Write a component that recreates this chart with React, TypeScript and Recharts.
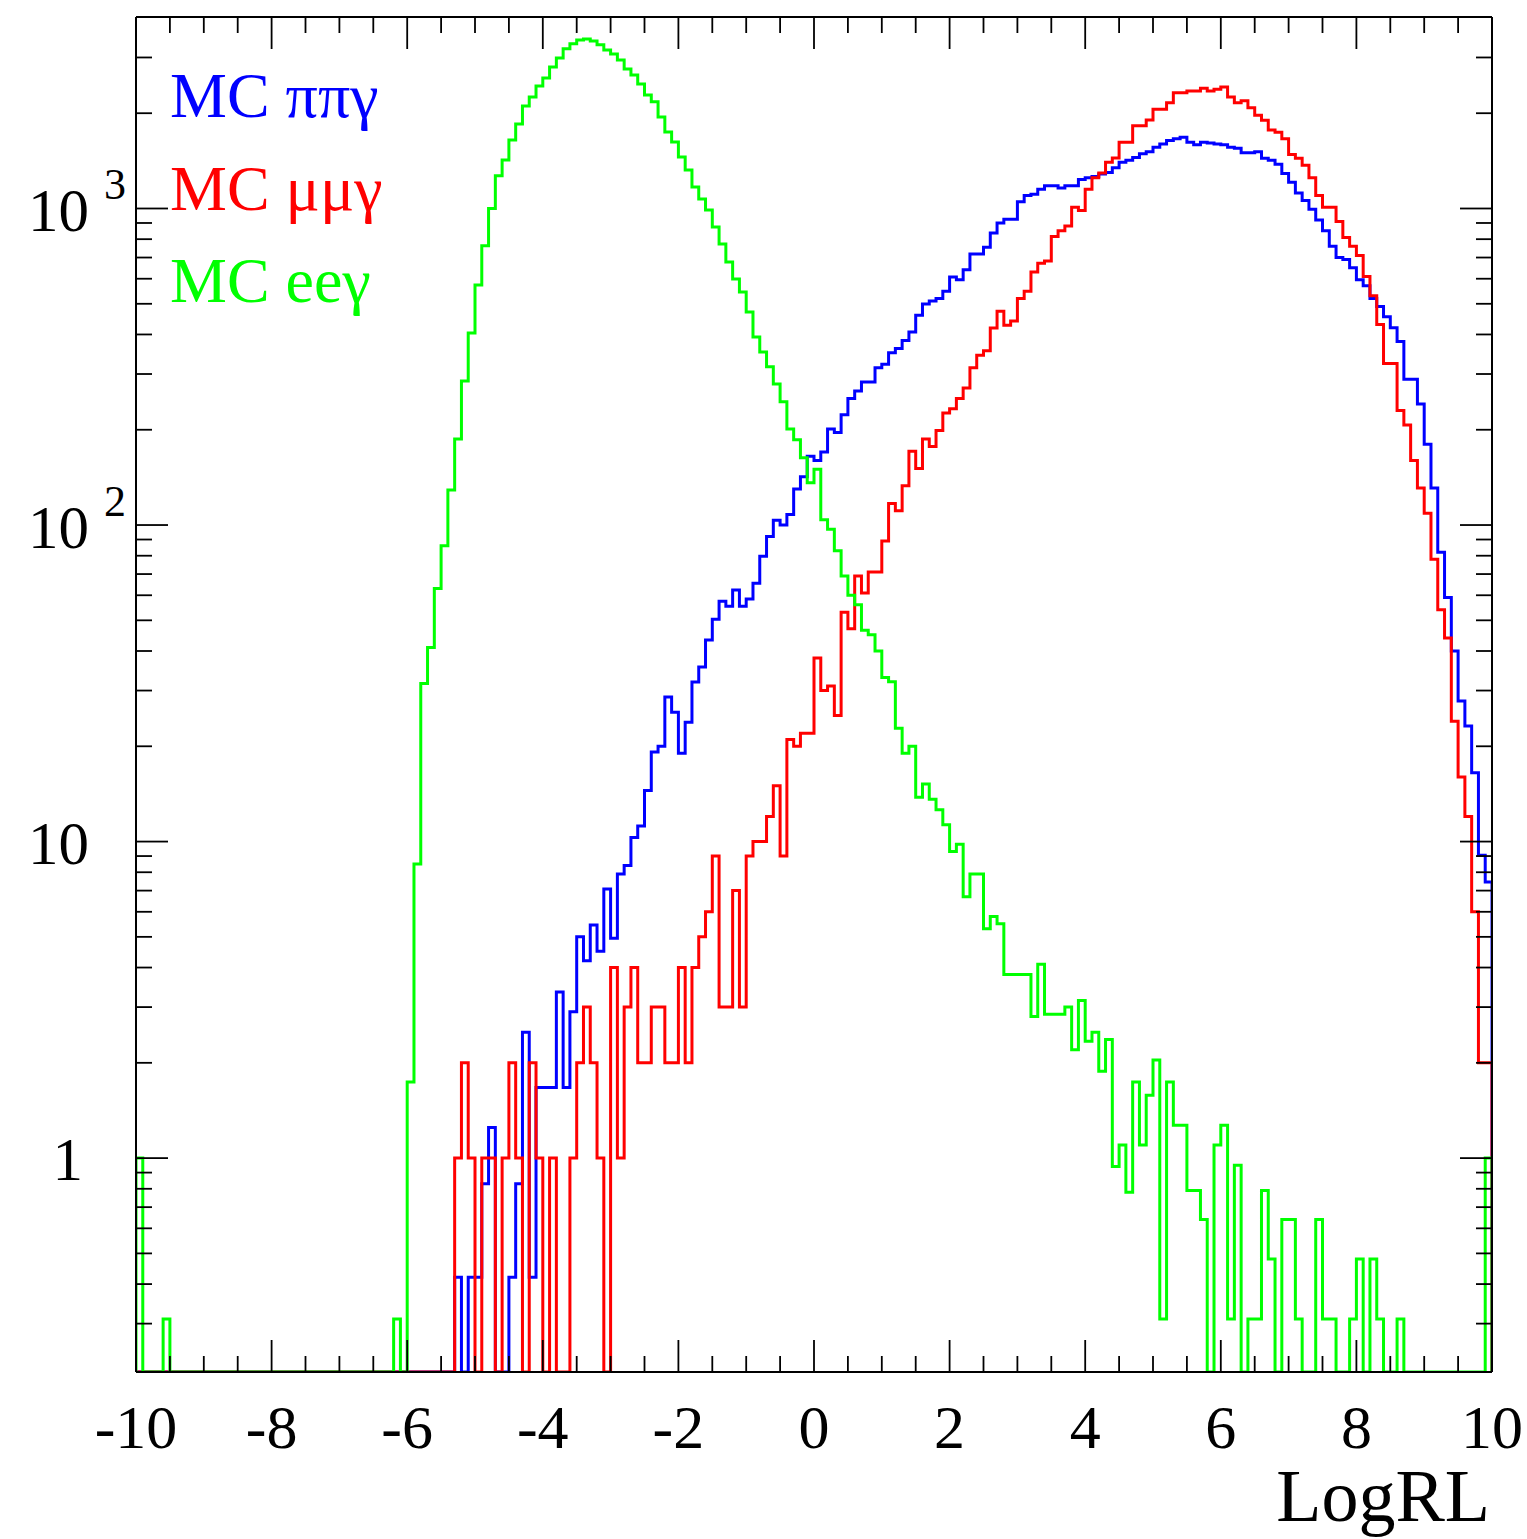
import React from 'react';
import { LineChart, Line, XAxis, YAxis } from 'recharts';

// histogram range: 200 bins of 0.1 from -10 to 10
const X_MIN = -10;
const X_MAX = 10;
const BIN_WIDTH = 0.1;
const Y_MIN = 0.211;
const Y_MAX = 4027;

// MC pi pi gamma, bin contents
const piPiGamma = [
  0, 0, 0, 0, 0, 0, 0, 0, 0, 0,
  0, 0, 0, 0, 0, 0, 0, 0, 0, 0,
  0, 0, 0, 0, 0, 0, 0, 0, 0, 0,
  0, 0, 0, 0, 0, 0, 0, 0, 0, 0,
  0, 0, 0, 0, 0, 0, 0, 0.42, 0, 0.42,
  0.42, 0.83, 1.25, 0, 0, 0.42, 0.83, 2.5, 0.42, 1.67,
  1.67, 1.67, 3.35, 1.67, 2.9, 5.0, 4.2, 5.45, 4.5, 7.08,
  4.95, 7.9, 8.4, 10.3, 11.2, 14.5, 19.2, 20.0, 28.6, 25.6,
  19.0, 23.8, 31.9, 35.6, 43.3, 50.4, 57.4, 55.4, 62.3, 55.4,
  58.4, 65.5, 79.7, 92, 103.5, 100, 108, 130, 142, 165,
  160, 170, 201, 196, 223, 251, 265, 283, 283, 314,
  322, 350, 361, 383, 407, 460, 499, 510, 520, 548,
  608, 595, 640, 718, 718, 755, 837, 900, 925, 925,
  1050, 1100, 1110, 1150, 1180, 1180, 1160, 1180, 1180, 1235,
  1250, 1262, 1285, 1300, 1345, 1400, 1420, 1450, 1490, 1510,
  1560, 1600, 1640, 1660, 1680, 1620, 1590, 1620, 1610, 1600,
  1590, 1560, 1550, 1500, 1500, 1510, 1440, 1420, 1380, 1290,
  1210, 1120, 1060, 995, 920, 850, 760, 700, 690, 650,
  595, 570, 520, 490, 455, 420, 380, 289, 289, 241,
  180, 131, 82, 59, 40, 27.8, 23.2, 16.5, 9.06, 7.45,
];

// MC mu mu gamma
const muMuGamma = [
  0, 0, 0, 0, 0, 0, 0, 0, 0, 0,
  0, 0, 0, 0, 0, 0, 0, 0, 0, 0,
  0, 0, 0, 0, 0, 0, 0, 0, 0, 0,
  0, 0, 0, 0, 0, 0, 0, 0, 0, 0,
  0, 0, 0, 0, 0, 0, 0, 1, 2, 1,
  0, 1, 1, 0, 1, 2, 1, 0, 2, 1,
  0, 1, 0, 0, 1, 2, 3, 2, 1, 0,
  4, 1, 3, 4, 2, 2, 3, 3, 2, 2,
  4, 2, 4, 5, 6, 9, 3, 3, 7, 3,
  9, 10, 10, 12, 15, 9, 21, 20, 22, 22,
  38, 30, 31, 25, 53, 47, 69, 61, 71, 71,
  89, 117, 111, 133, 171, 151, 187, 177, 199, 226,
  233, 251, 271, 314, 344, 355, 419, 474, 428, 441,
  520, 548, 630, 672, 683, 815, 850, 880, 1010, 985,
  1150, 1250, 1295, 1400, 1445, 1620, 1620, 1825, 1825, 1905,
  2060, 2060, 2160, 2320, 2320, 2350, 2350, 2400, 2350, 2380,
  2420, 2250, 2160, 2190, 2080, 1970, 1900, 1770, 1740, 1660,
  1480, 1440, 1370, 1250, 1100, 1010, 1010, 910, 810, 760,
  710, 610, 530, 430, 324, 324, 230, 207, 160, 131,
  109, 78, 54, 44, 24, 16, 12, 6, 2, 2,
];

// MC e e gamma
const eeGamma = [
  1, 0, 0, 0, 0.31, 0, 0, 0, 0, 0,
  0, 0, 0, 0, 0, 0, 0, 0, 0, 0,
  0, 0, 0, 0, 0, 0, 0, 0, 0, 0,
  0, 0, 0, 0, 0, 0, 0, 0, 0.31, 0,
  1.74, 8.5, 31.6, 41, 63, 86, 129, 187, 285, 404,
  573, 762, 1000, 1268, 1423, 1645, 1849, 2109, 2250, 2438,
  2584, 2800, 2991, 3194, 3312, 3408, 3434, 3383, 3288, 3170,
  3079, 2947, 2760, 2642, 2473, 2284, 2172, 1947, 1745, 1622,
  1455, 1324, 1170, 1072, 989, 874, 773, 678, 599, 545,
  471, 393, 352, 316, 279, 245, 201, 186, 163, 136,
  150, 104, 97, 83, 69, 60, 56, 46.5, 45, 40,
  33, 32, 22.8, 19, 20, 13.8, 15.2, 13.6, 12.6, 11.3,
  9.3, 9.8, 6.7, 7.9, 7.9, 5.3, 5.8, 5.5, 3.8, 3.8,
  3.8, 3.8, 2.8, 4.1, 2.85, 2.85, 2.85, 3.0, 2.2, 3.15,
  2.34, 2.5, 1.88, 2.37, 0.94, 1.1, 0.78, 1.74, 1.1, 1.58,
  2.04, 0.31, 1.74, 1.27, 1.27, 0.79, 0.79, 0.64, 0, 1.1,
  1.27, 0.31, 0.95, 0, 0.31, 0.31, 0.79, 0.48, 0, 0.64,
  0.64, 0.31, 0, 0, 0.64, 0.31, 0.31, 0, 0, 0.31,
  0.48, 0, 0.48, 0.31, 0, 0, 0.31, 0, 0, 0,
  0, 0, 0, 0, 0, 0, 0, 0, 0, 1,
];

const xTicks = [
  -10, -9.5, -9, -8.5, -8, -7.5, -7, -6.5, -6, -5.5, -5, -4.5, -4, -3.5, -3, -2.5, -2, -1.5, -1, -0.5,
  0, 0.5, 1, 1.5, 2, 2.5, 3, 3.5, 4, 4.5, 5, 5.5, 6, 6.5, 7, 7.5, 8, 8.5, 9, 9.5, 10,
];
const yTicks = [
  0.3, 0.4, 0.5, 0.6, 0.7, 0.8, 0.9,
  1, 2, 3, 4, 5, 6, 7, 8, 9,
  10, 20, 30, 40, 50, 60, 70, 80, 90,
  100, 200, 300, 400, 500, 600, 700, 800, 900,
  1000, 2000, 3000,
];

const FONT = "'Liberation Serif', 'Times New Roman', serif";

// histogram outline: start and end on the frame floor, empty bins sit on the floor
function buildRows() {
  const lift = (v: number) => (v > Y_MIN ? v : Y_MIN);
  const rows = [{ x: X_MIN, pipi: Y_MIN, mumu: Y_MIN, ee: Y_MIN }];
  for (let i = 0; i < piPiGamma.length; i++) {
    rows.push({
      x: Math.round((X_MIN + i * BIN_WIDTH) * 10) / 10,
      pipi: lift(piPiGamma[i]),
      mumu: lift(muMuGamma[i]),
      ee: lift(eeGamma[i]),
    });
  }
  const n = piPiGamma.length - 1;
  rows.push({ x: X_MAX, pipi: lift(piPiGamma[n]), mumu: lift(muMuGamma[n]), ee: lift(eeGamma[n]) });
  rows.push({ x: X_MAX, pipi: Y_MIN, mumu: Y_MIN, ee: Y_MIN });
  return rows;
}

const isMajorX = (v: number) => Math.abs(v % 2) < 1e-9;
const isDecade = (v: number) => {
  const l = Math.log10(v);
  return Math.abs(l - Math.round(l)) < 1e-9;
};

// plot frame edges in page pixels
const LEFT = 136;
const RIGHT = 1492;
const TOP = 17;
const BOTTOM = 1372;

function BottomTick(props: any) {
  const { x, payload } = props;
  const v = payload.value;
  const major = isMajorX(v);
  const y = BOTTOM;
  return (
    <g>
      <line x1={x} y1={y} x2={x} y2={y - (major ? 32 : 16)} stroke="#000" strokeWidth={1.8} />
      {major && (
        <text x={x} y={y + 76} textAnchor="middle" fontSize={62} fontFamily={FONT} fill="#000">
          {String(v)}
        </text>
      )}
    </g>
  );
}

function TopTick(props: any) {
  const { x, payload } = props;
  const major = isMajorX(payload.value);
  return <line x1={x} y1={TOP} x2={x} y2={TOP + (major ? 32 : 16)} stroke="#000" strokeWidth={1.8} />;
}

function LeftTick(props: any) {
  const { y, payload } = props;
  const v = payload.value;
  const major = isDecade(v);
  const exp = Math.round(Math.log10(v));
  let label: React.ReactNode = null;
  if (major) {
    if (exp <= 1) {
      label = (
        <text x={exp === 0 ? 83 : 89} y={y + 22} textAnchor="end" fontSize={61} fontFamily={FONT} fill="#000">
          {exp === 0 ? '1' : '10'}
        </text>
      );
    } else {
      label = (
        <g>
          <text x={89} y={y + 23} textAnchor="end" fontSize={61} fontFamily={FONT} fill="#000">10</text>
          <text x={104} y={y - 9} textAnchor="start" fontSize={44} fontFamily={FONT} fill="#000">{String(exp)}</text>
        </g>
      );
    }
  }
  return (
    <g>
      <line x1={LEFT} y1={y} x2={LEFT + (major ? 32 : 16)} y2={y} stroke="#000" strokeWidth={1.8} />
      {label}
    </g>
  );
}

function RightTick(props: any) {
  const { y, payload } = props;
  const major = isDecade(payload.value);
  return <line x1={RIGHT} y1={y} x2={RIGHT - (major ? 32 : 16)} y2={y} stroke="#000" strokeWidth={1.8} />;
}

const legend = [
  { text: 'MC ππγ', color: '#0000ff', y: 117 },
  { text: 'MC μμγ', color: '#ff0000', y: 210 },
  { text: 'MC eeγ', color: '#00ff00', y: 302 },
];

export default function App() {
  const rows = buildRows();
  const W = 1527;
  const H = 1539;
  const axisLine = { stroke: '#000', strokeWidth: 2 };
  return (
    <div style={{ position: 'absolute', left: 0, top: 0, width: W, height: H, background: '#fff' }}>
      <LineChart
        width={W}
        height={H}
        data={rows}
        margin={{ top: TOP - 1, left: LEFT - 1, right: W - RIGHT - 1, bottom: H - BOTTOM - 1 }}
      >
        <XAxis
          dataKey="x"
          type="number"
          domain={[X_MIN, X_MAX]}
          ticks={xTicks}
          interval={0}
          height={1}
          tickSize={0}
          tickMargin={0}
          tickLine={false}
          allowDataOverflow
          axisLine={axisLine}
          tick={BottomTick}
        />
        <XAxis
          xAxisId="top"
          orientation="top"
          dataKey="x"
          type="number"
          domain={[X_MIN, X_MAX]}
          ticks={xTicks}
          interval={0}
          height={1}
          tickSize={0}
          tickMargin={0}
          tickLine={false}
          allowDataOverflow
          axisLine={axisLine}
          tick={TopTick}
        />
        <YAxis
          type="number"
          scale="log"
          domain={[Y_MIN, Y_MAX]}
          ticks={yTicks}
          interval={0}
          width={1}
          tickSize={0}
          tickMargin={0}
          tickLine={false}
          allowDataOverflow
          axisLine={axisLine}
          tick={LeftTick}
        />
        <YAxis
          yAxisId="right"
          orientation="right"
          type="number"
          scale="log"
          domain={[Y_MIN, Y_MAX]}
          ticks={yTicks}
          interval={0}
          width={1}
          tickSize={0}
          tickMargin={0}
          tickLine={false}
          allowDataOverflow
          axisLine={axisLine}
          tick={RightTick}
        />
        <Line type="stepAfter" dataKey="pipi" stroke="#0000ff" strokeWidth={3} dot={false} activeDot={false} isAnimationActive={false} />
        <Line type="stepAfter" dataKey="mumu" stroke="#ff0000" strokeWidth={3} dot={false} activeDot={false} isAnimationActive={false} />
        <Line type="stepAfter" dataKey="ee" stroke="#00ff00" strokeWidth={3} dot={false} activeDot={false} isAnimationActive={false} />
      </LineChart>
      <svg width={W} height={H} style={{ position: 'absolute', left: 0, top: 0, pointerEvents: 'none' }}>
        {legend.map((l) => (
          <text key={l.text} x={170} y={l.y} fontSize={64} fontFamily={FONT} fill={l.color}>
            {l.text}
          </text>
        ))}
        <text x={1490} y={1521} textAnchor="end" fontSize={74} fontFamily={FONT} fill="#000">
          LogRL
        </text>
      </svg>
    </div>
  );
}
